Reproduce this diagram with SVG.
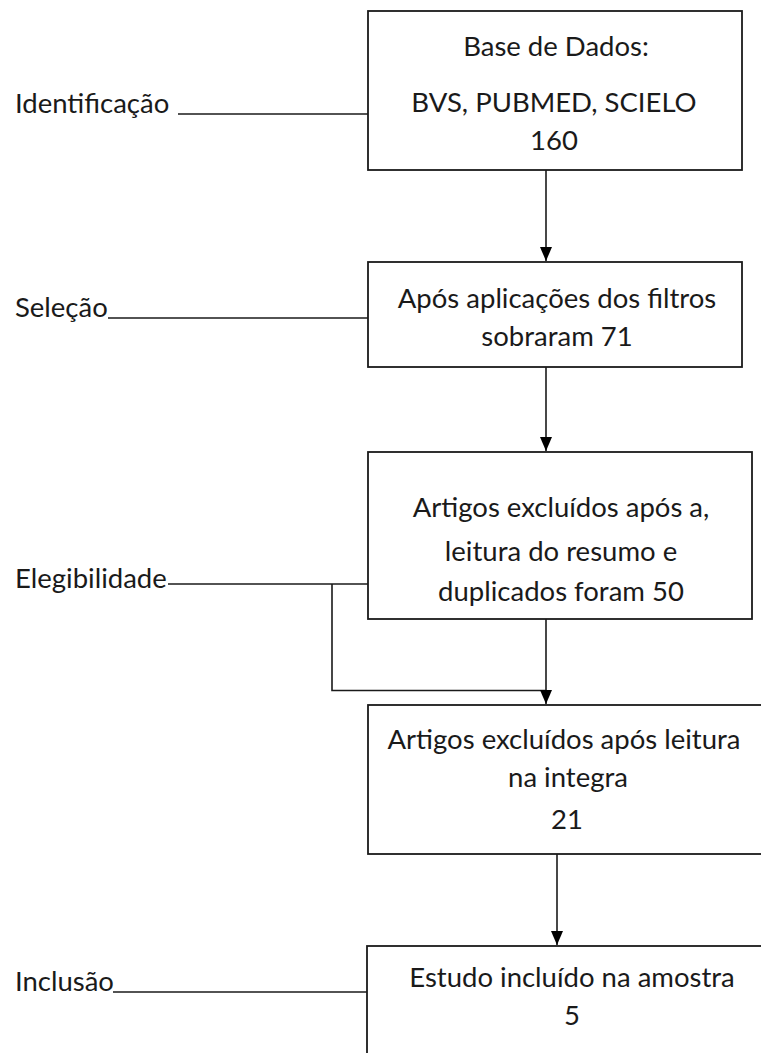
<svg xmlns="http://www.w3.org/2000/svg" width="761" height="1053" viewBox="0 0 761 1053">
<style>
text{font-family:Lato,"Open Sans","Liberation Sans",sans-serif;font-size:27.5px;fill:#1a1a1a}
.c{text-anchor:middle}
.box{fill:#fff;stroke:#1a1a1a;stroke-width:1.8}
.ln{fill:none;stroke:#1a1a1a;stroke-width:1.6}
</style>
<defs>
<marker id="ah" viewBox="0 0 14 12" refX="14" refY="6" markerWidth="14" markerHeight="12" markerUnits="userSpaceOnUse" orient="auto">
<path d="M0,0 L14,6 L0,12 Z" fill="#000"/>
</marker>
</defs>
<rect width="761" height="1053" fill="#fff"/>
<g id="connectors">
<path class="ln" d="M178,114 H368"/>
<path class="ln" d="M108,318 H368"/>
<path class="ln" d="M168,584 H368"/>
<path class="ln" d="M332,584 V690.5 H546"/>
<path class="ln" d="M113,992 H367"/>
<path class="ln" d="M546,170 V261" marker-end="url(#ah)"/>
<path class="ln" d="M546,367 V451" marker-end="url(#ah)"/>
<path class="ln" d="M546,619 V704" marker-end="url(#ah)"/>
<path class="ln" d="M557,854 V945" marker-end="url(#ah)"/>
</g>
<g id="lbl-identificacao"><text x="15" y="113">Identificação</text></g>
<g id="lbl-selecao"><text x="15" y="317">Seleção</text></g>
<g id="lbl-elegibilidade"><text x="15" y="588">Elegibilidade</text></g>
<g id="lbl-inclusao"><text x="15" y="991">Inclusão</text></g>
<g id="n1">
<rect class="box" x="368" y="11" width="374" height="159"/>
<text class="c" x="556" y="56">Base de Dados:</text>
<text class="c" x="554" y="112">BVS, PUBMED, SCIELO</text>
<text class="c" x="554" y="150">160</text>
</g>
<g id="n2">
<rect class="box" x="368" y="262" width="374" height="105"/>
<text class="c" x="557" y="308">Após aplicações dos filtros</text>
<text class="c" x="557" y="346">sobraram 71</text>
</g>
<g id="n3">
<rect class="box" x="368" y="452" width="384" height="167"/>
<text class="c" x="561" y="517">Artigos excluídos após a,</text>
<text class="c" x="561" y="561">leitura do resumo e</text>
<text class="c" x="561" y="601">duplicados foram 50</text>
</g>
<g id="n4">
<rect class="box" x="368" y="705" width="400" height="149"/>
<text class="c" x="564" y="749">Artigos excluídos após leitura</text>
<text class="c" x="568" y="787">na integra</text>
<text class="c" x="567" y="829">21</text>
</g>
<g id="n5">
<rect class="box" x="367" y="946" width="400" height="120"/>
<text class="c" x="572" y="987">Estudo incluído na amostra</text>
<text class="c" x="572" y="1025">5</text>
</g>
</svg>
